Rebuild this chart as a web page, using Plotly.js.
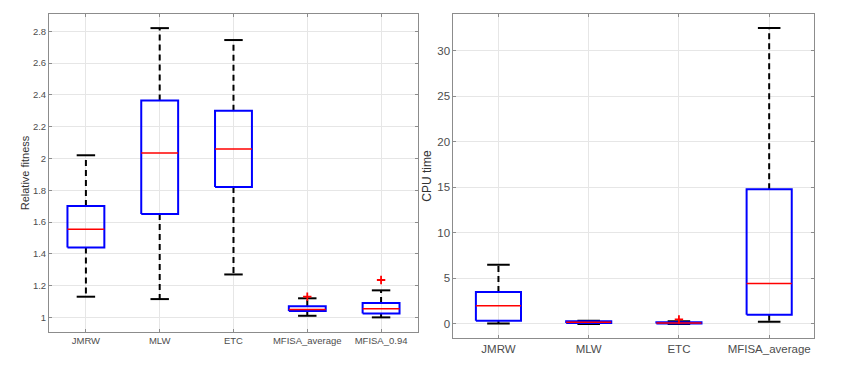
<!DOCTYPE html>
<html>
<head>
<meta charset="utf-8">
<script src="https://cdn.plot.ly/plotly-3.0.1.min.js"></script>
<style>
  body { margin: 0; background: #fff; }
  #chart { width: 842px; height: 377px; }
</style>
</head>
<body>
<div id="chart"></div>
<script>
// left panel: relative fitness
var fitCats = ['JMRW', 'MLW', 'ETC', 'MFISA_average', 'MFISA_0.94'];
var fitLower = [1.13, 1.115, 1.27, 1.01, 1.0];
var fitQ1 = [1.44, 1.65, 1.82, 1.04, 1.025];
var fitMedian = [1.555, 2.035, 2.06, 1.05, 1.055];
var fitQ3 = [1.70, 2.365, 2.30, 1.07, 1.09];
var fitUpper = [2.02, 2.82, 2.745, 1.12, 1.17];
var fitOutCat = [3, 4];
var fitOutVal = [1.13, 1.235];

// right panel: CPU time
var cpuCats = ['JMRW', 'MLW', 'ETC', 'MFISA_average'];
var cpuLower = [0.05, 0.0, 0.0, 0.25];
var cpuQ1 = [0.35, 0.1, 0.05, 1.0];
var cpuMedian = [2.0, 0.2, 0.1, 4.45];
var cpuQ3 = [3.5, 0.3, 0.2, 14.8];
var cpuUpper = [6.5, 0.35, 0.3, 32.5];
var cpuOutCat = [2];
var cpuOutVal = [0.5];

var boxHalf = 0.25, capHalf = 0.125;

function boxTraces(lower, q1, med, q3, upper, outCat, outVal, xa, ya) {
    var wx = [], wy = [], cx = [], cy = [], bx = [], by = [], mx = [], my = [];
    for (var i = 0; i < med.length; i++) {
        wx.push(i, i, null, i, i, null);
        wy.push(q3[i], upper[i], null, q1[i], lower[i], null);
        cx.push(i - capHalf, i + capHalf, null, i - capHalf, i + capHalf, null);
        cy.push(upper[i], upper[i], null, lower[i], lower[i], null);
        bx.push(i - boxHalf, i + boxHalf, i + boxHalf, i - boxHalf, i - boxHalf, null);
        by.push(q1[i], q1[i], q3[i], q3[i], q1[i], null);
        mx.push(i - boxHalf, i + boxHalf, null);
        my.push(med[i], med[i], null);
    }
    var common = {type: 'scatter', mode: 'lines', xaxis: xa, yaxis: ya, showlegend: false, hoverinfo: 'skip'};
    return [
        Object.assign({x: wx, y: wy, line: {color: '#000', width: 2, dash: '6px,4px'}}, common),
        Object.assign({x: cx, y: cy, line: {color: '#000', width: 2}}, common),
        Object.assign({x: bx, y: by, line: {color: '#0000ff', width: 2}}, common),
        Object.assign({x: mx, y: my, line: {color: '#ff0000', width: 1.5}}, common),
        {type: 'scatter', mode: 'markers', x: outCat, y: outVal, xaxis: xa, yaxis: ya,
         showlegend: false, hoverinfo: 'skip',
         marker: {symbol: 'cross-thin', size: 6, line: {color: '#ff0000', width: 1.8}}}
    ];
}

var data = boxTraces(fitLower, fitQ1, fitMedian, fitQ3, fitUpper, fitOutCat, fitOutVal, 'x', 'y')
    .concat(boxTraces(cpuLower, cpuQ1, cpuMedian, cpuQ3, cpuUpper, cpuOutCat, cpuOutVal, 'x2', 'y2'));

var font = 'Liberation Sans, Arial, sans-serif';

var axStyle = {
    showline: true, linecolor: '#8c8c8c', linewidth: 1, mirror: 'ticks',
    ticks: 'inside', ticklen: 3, tickcolor: '#8c8c8c',
    showgrid: true, gridcolor: '#e6e6e6', zeroline: false
};

function idx(n) { var a = []; for (var i = 0; i < n; i++) a.push(i); return a; }

var layout = {
    width: 842, height: 377,
    margin: {l: 0, r: 0, t: 0, b: 0},
    paper_bgcolor: '#fff', plot_bgcolor: '#fff',
    xaxis: Object.assign({}, axStyle, {
        domain: [0.0582, 0.4964], range: [-0.5, 4.5],
        tickvals: idx(fitCats.length), ticktext: fitCats,
        tickfont: {family: font, color: '#4d4d4d', size: 9.5}
    }),
    yaxis: Object.assign({}, axStyle, {
        domain: [0.1194, 0.9629], range: [0.908, 2.909],
        dtick: 0.2, tick0: 0,
        tickfont: {family: font, color: '#4d4d4d', size: 9.5},
        title: {text: 'Relative fitness', standoff: 1,
                font: {family: font, color: '#333', size: 11}}
    }),
    xaxis2: Object.assign({}, axStyle, {
        anchor: 'y2',
        domain: [0.5384, 0.9671], range: [-0.5, 3.5],
        tickvals: idx(cpuCats.length), ticktext: cpuCats,
        tickfont: {family: font, color: '#4d4d4d', size: 11.5}
    }),
    yaxis2: Object.assign({}, axStyle, {
        anchor: 'x2',
        domain: [0.1027, 0.9637], range: [-1.57, 34.06],
        dtick: 5,
        tickfont: {family: font, color: '#4d4d4d', size: 11.5},
        title: {text: 'CPU time', standoff: 3,
                font: {family: font, color: '#333', size: 12}}
    })
};

Plotly.newPlot('chart', data, layout, {displayModeBar: false, staticPlot: true});
</script>
</body>
</html>
